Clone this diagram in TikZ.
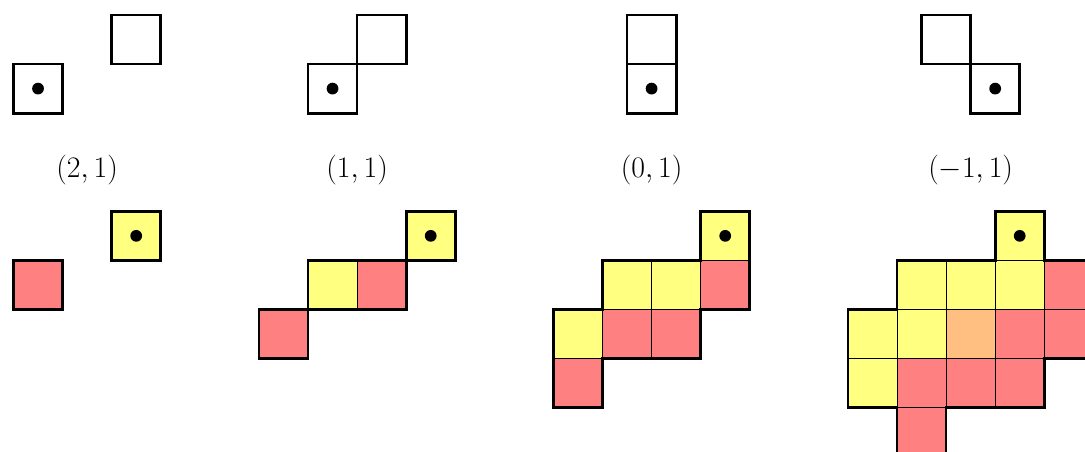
\documentclass[tikz,border=0pt]{standalone}
\usepackage{xcolor}
\usepackage{tikz}
\definecolor{cellYellow}{RGB}{255, 255, 128}
\definecolor{cellRed}{RGB}{255, 128, 128}
\definecolor{cellOrange}{RGB}{255, 191, 128}

\begin{document}
\begin{tikzpicture}[
    emptyBox/.style={draw=black, line width=1.6pt},
    blockBorder/.style={draw=black, line width=1.6pt, line join=miter},
    cell/.style={draw=black, line width=0.5pt},
    yellowCell/.style={cell, fill=cellYellow},
    redCell/.style={cell, fill=cellRed},
    orangeCell/.style={cell, fill=cellOrange},
    centreDot/.style={fill=black},
    shiftLabel/.style={font=\LARGE}
]
    \useasboundingbox (-0.275,0.305) rectangle (21.83,-8.9);

    % Top row: the two squares of each shift
    \draw[emptyBox] (0,-2) rectangle (1,-1);
    \draw[emptyBox] (2,-1) rectangle (3,0);
    \fill[centreDot] (0.5,-1.5) circle (0.12);

    \draw[emptyBox] (6,-2) rectangle (7,-1);
    \draw[emptyBox] (7,-1) rectangle (8,0);
    \fill[centreDot] (6.5,-1.5) circle (0.12);

    \draw[emptyBox] (12.5,-1) rectangle (13.5,0);
    \draw[emptyBox] (12.5,-2) rectangle (13.5,-1);
    \fill[centreDot] (13,-1.5) circle (0.12);

    \draw[emptyBox] (18.5,-1) rectangle (19.5,0);
    \draw[emptyBox] (19.5,-2) rectangle (20.5,-1);
    \fill[centreDot] (20,-1.5) circle (0.12);

    % Labels
    \node[shiftLabel] (shiftTwo) at (1.5,-3.15) {$(2,1)$};
    \node[shiftLabel] (shiftOne) at (7,-3.15) {$(1,1)$};
    \node[shiftLabel] (shiftZero) at (13,-3.15) {$(0,1)$};
    \node[shiftLabel] (shiftMinus) at (19.5,-3.15) {$(-1,1)$};

    % Bottom row, shift (2,1)
    \draw[yellowCell] (2,-5) rectangle (3,-4);
    \draw[redCell] (0,-6) rectangle (1,-5);
    \draw[blockBorder] (2,-5) rectangle (3,-4);
    \draw[blockBorder] (0,-6) rectangle (1,-5);
    \fill[centreDot] (2.5,-4.5) circle (0.12);

    % Bottom row, shift (1,1)
    \draw[yellowCell] (8,-5) rectangle (9,-4);
    \draw[yellowCell] (6,-6) rectangle (7,-5);
    \draw[redCell] (7,-6) rectangle (8,-5);
    \draw[redCell] (5,-7) rectangle (6,-6);
    \draw[blockBorder] (8,-5) rectangle (9,-4);
    \draw[blockBorder] (6,-6) rectangle (8,-5);
    \draw[blockBorder] (5,-7) rectangle (6,-6);
    \fill[centreDot] (8.5,-4.5) circle (0.12);

    % Bottom row, shift (0,1)
    \draw[yellowCell] (14,-5) rectangle (15,-4);
    \draw[yellowCell] (12,-6) rectangle (13,-5);
    \draw[yellowCell] (13,-6) rectangle (14,-5);
    \draw[redCell] (14,-6) rectangle (15,-5);
    \draw[yellowCell] (11,-7) rectangle (12,-6);
    \draw[redCell] (12,-7) rectangle (13,-6);
    \draw[redCell] (13,-7) rectangle (14,-6);
    \draw[redCell] (11,-8) rectangle (12,-7);
    \draw[blockBorder] (14,-4) -- (15,-4) -- (15,-6) -- (14,-6) -- (14,-7) -- (12,-7) -- (12,-8)
        -- (11,-8) -- (11,-6) -- (12,-6) -- (12,-5) -- (14,-5) -- cycle;
    \fill[centreDot] (14.5,-4.5) circle (0.12);

    % Bottom row, shift (-1,1)
    \draw[yellowCell] (20,-5) rectangle (21,-4);
    \draw[yellowCell] (18,-6) rectangle (19,-5);
    \draw[yellowCell] (19,-6) rectangle (20,-5);
    \draw[yellowCell] (20,-6) rectangle (21,-5);
    \draw[redCell] (21,-6) rectangle (22,-5);
    \draw[yellowCell] (17,-7) rectangle (18,-6);
    \draw[yellowCell] (18,-7) rectangle (19,-6);
    \draw[orangeCell] (19,-7) rectangle (20,-6);
    \draw[redCell] (20,-7) rectangle (21,-6);
    \draw[redCell] (21,-7) rectangle (22,-6);
    \draw[yellowCell] (17,-8) rectangle (18,-7);
    \draw[redCell] (18,-8) rectangle (19,-7);
    \draw[redCell] (19,-8) rectangle (20,-7);
    \draw[redCell] (20,-8) rectangle (21,-7);
    \draw[redCell] (18,-9) rectangle (19,-8);
    \draw[blockBorder] (20,-4) -- (21,-4) -- (21,-5) -- (22,-5) -- (22,-7) -- (21,-7) -- (21,-8)
        -- (19,-8) -- (19,-9) -- (18,-9) -- (18,-8) -- (17,-8) -- (17,-6) -- (18,-6) -- (18,-5)
        -- (20,-5) -- cycle;
    \fill[centreDot] (20.5,-4.5) circle (0.12);

\end{tikzpicture}
\end{document}
